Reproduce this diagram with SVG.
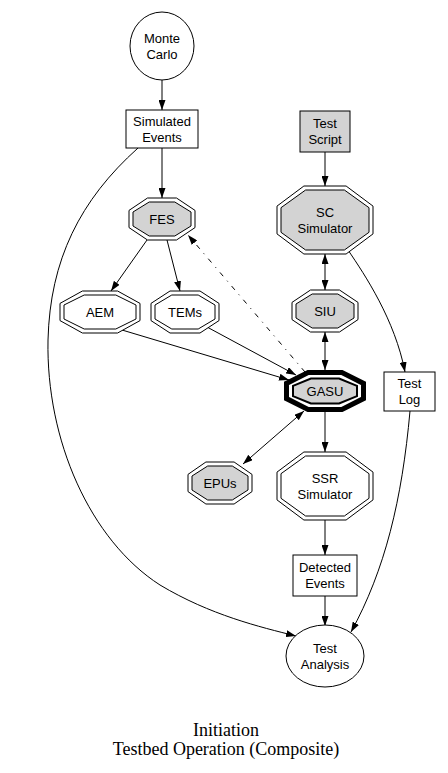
<svg xmlns="http://www.w3.org/2000/svg" width="448" height="773" viewBox="0 0 448 773">
<style>
.n{fill:#fff;stroke:#000;stroke-width:1}
.g{fill:#d3d3d3;stroke:#000;stroke-width:1}
.t{font-family:"Liberation Sans",Arial,sans-serif;font-size:13px;text-anchor:middle;fill:#000}
.e{fill:none;stroke:#000;stroke-width:1}
.a{marker-end:url(#ah)}
.b{marker-start:url(#ah);marker-end:url(#ah)}
.title{font-family:"Liberation Serif","Times New Roman",serif;font-size:18px;text-anchor:middle;fill:#000}
</style>
<defs>
<marker id="ah" markerWidth="10" markerHeight="7" refX="10" refY="3.5" orient="auto-start-reverse" markerUnits="userSpaceOnUse">
<path d="M0,0 L10,3.5 L0,7 z" fill="#000"/>
</marker>
</defs>
<rect width="448" height="773" fill="#fff"/>
<g id="edges">
<path class="e a" d="M162,80 L162,110"/>
<path class="e a" d="M162,148 L162,198"/>
<path class="e a" d="M138,148 C80,200 50,260 48,340 C46,440 90,540 160,585 C210,615 260,627 296,636"/>
<path class="e a" d="M325,152 L325,186"/>
<path class="e b" d="M325,254 L325,290"/>
<path class="e a" d="M348,250 C365,275 395,320 405,372"/>
<path class="e a" d="M147,240 L111,291"/>
<path class="e a" d="M167,240 L180,291"/>
<path class="e a" d="M305,372 L188,235" stroke-dasharray="5,6,1,6"/>
<path class="e a" d="M122,330 L289,380"/>
<path class="e a" d="M207,327 L296,375"/>
<path class="e b" d="M325,332 L325,370"/>
<path class="e b" d="M304,411 L243,464" stroke-width="2"/>
<path class="e a" d="M325,412 L325,452"/>
<path class="e a" d="M325,520 L325,555"/>
<path class="e a" d="M325,596 L325,626"/>
<path class="e a" d="M410,411 C402,500 385,570 351,632"/>
</g>
<g id="monte-carlo">
<ellipse class="n" cx="162" cy="46" rx="32" ry="34"/>
<text class="t" x="162" y="43">Monte</text>
<text class="t" x="162" y="59">Carlo</text>
</g>
<g id="simulated-events">
<rect class="n" x="126" y="110" width="72" height="38"/>
<text class="t" x="162" y="126">Simulated</text>
<text class="t" x="162" y="142">Events</text>
</g>
<g id="test-script">
<rect class="g" x="300" y="111" width="50" height="41"/>
<text class="t" x="325" y="128">Test</text>
<text class="t" x="325" y="144">Script</text>
</g>
<g id="fes">
<polygon class="n" points="147.5,198 176.5,198 195,210.4 195,227.6 176.5,240 147.5,240 129,227.6 129,210.4"/>
<polygon class="g" points="149.2,202 174.8,202 191,212 191,226 174.8,236 149.2,236 133,226 133,212"/>
<text class="t" x="162" y="223.5">FES</text>
</g>
<g id="sc-simulator">
<polygon class="n" points="303.9,186 346.1,186 373,206.1 373,233.9 346.1,254 303.9,254 277,233.9 277,206.1"/>
<polygon class="g" points="305.6,190 344.4,190 369,207.7 369,232.3 344.4,250 305.6,250 281,232.3 281,207.7"/>
<text class="t" x="325" y="216.5">SC</text>
<text class="t" x="325" y="232.5">Simulator</text>
</g>
<g id="aem">
<polygon class="n" points="82.4,291 117.6,291 140,303.4 140,320.6 117.6,333 82.4,333 60,320.6 60,303.4"/>
<polygon class="n" points="84.2,295 115.8,295 136,305 136,319 115.8,329 84.2,329 64,319 64,305"/>
<text class="t" x="100" y="316.5">AEM</text>
</g>
<g id="tems">
<polygon class="n" points="170,291 200,291 219,303.4 219,320.6 200,333 170,333 151,320.6 151,303.4"/>
<polygon class="n" points="171.8,295 198.2,295 215,305 215,319 198.2,329 171.8,329 155,319 155,305"/>
<text class="t" x="185" y="316.5">TEMs</text>
</g>
<g id="siu">
<polygon class="n" points="310.5,290 339.5,290 358,302.4 358,319.6 339.5,332 310.5,332 292,319.6 292,302.4"/>
<polygon class="g" points="312.2,294 337.8,294 354,304 354,318 337.8,328 312.2,328 296,318 296,304"/>
<text class="t" x="325" y="315.5">SIU</text>
</g>
<g id="gasu">
<polygon fill="#fff" stroke="#000" stroke-width="5" points="308.1,372.5 341.9,372.5 363.5,383.4 363.5,398.6 341.9,409.5 308.1,409.5 286.5,398.6 286.5,383.4"/>
<polygon fill="#d3d3d3" stroke="#000" stroke-width="2" points="310.9,378.5 339.1,378.5 357,385.9 357,396.1 339.1,403.5 310.9,403.5 293,396.1 293,385.9"/>
<text class="t" x="325" y="395.5">GASU</text>
</g>
<g id="test-log">
<rect class="n" x="384" y="372" width="51" height="39"/>
<text class="t" x="409.5" y="388">Test</text>
<text class="t" x="409.5" y="404">Log</text>
</g>
<g id="epus">
<polygon class="n" points="205.9,462 234.1,462 252,474.4 252,491.6 234.1,504 205.9,504 188,491.6 188,474.4"/>
<polygon class="g" points="207.7,466 232.3,466 248,476 248,490 232.3,500 207.7,500 192,490 192,476"/>
<text class="t" x="220" y="487.5">EPUs</text>
</g>
<g id="ssr-simulator">
<polygon class="n" points="303.9,452 346.1,452 373,472.1 373,499.9 346.1,520 303.9,520 277,499.9 277,472.1"/>
<polygon class="n" points="305.6,456 344.4,456 369,473.7 369,498.3 344.4,516 305.6,516 281,498.3 281,473.7"/>
<text class="t" x="325" y="482.5">SSR</text>
<text class="t" x="325" y="498.5">Simulator</text>
</g>
<g id="detected-events">
<rect class="n" x="293" y="555" width="64" height="41"/>
<text class="t" x="325" y="571.5">Detected</text>
<text class="t" x="325" y="587.5">Events</text>
</g>
<g id="test-analysis">
<ellipse class="n" cx="325" cy="656" rx="39" ry="31"/>
<text class="t" x="325" y="653">Test</text>
<text class="t" x="325" y="669">Analysis</text>
</g>
<g id="title">
<text class="title" x="226" y="736">Initiation</text>
<text class="title" x="226" y="755">Testbed Operation (Composite)</text>
</g>
</svg>
